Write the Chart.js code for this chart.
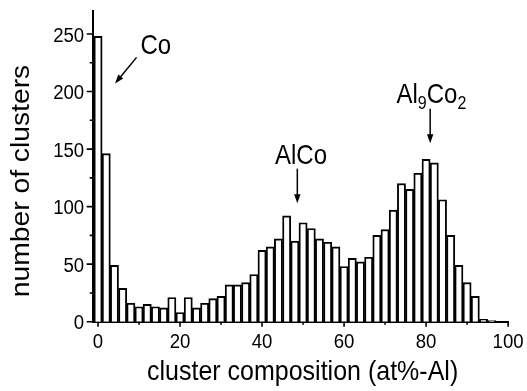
<!DOCTYPE html>
<html>
<head>
<meta charset="utf-8">
<script src="https://cdn.jsdelivr.net/npm/chart.js@4/dist/chart.umd.min.js"></script>
<style>
  html, body { margin: 0; padding: 0; background: #fff; }
  #wrap { width: 527px; height: 391px; }
</style>
</head>
<body>
<div id="wrap"><canvas id="chart"></canvas></div>
<script>
// histogram bins (at%-Al) and number of clusters in each
const binCenters = [0, 2, 4, 6, 8, 10, 12, 14, 16, 18, 20, 22, 24, 26, 28, 30, 32, 34, 36, 38,
  40, 42, 44, 46, 48, 50, 52, 54, 56, 58, 60, 62, 64, 66, 68, 70, 72, 74, 76, 78,
  80, 82, 84, 86, 88, 90, 92, 94, 96];
const clusterCounts = [248, 146, 49, 29, 16, 13, 15, 13, 12, 21, 8, 21, 12, 16, 20, 22, 32, 32, 34, 41,
  62, 65, 72, 92, 70, 86, 81, 72, 69, 65, 48, 55, 52, 56, 75, 80, 97, 120, 115, 129,
  141, 138, 106, 75, 49, 34, 22, 2, 1];

const xTickValues = [0, 20, 40, 60, 80, 100];
const xMinorTicks = [10, 30, 50, 70, 90];
const yTickValues = [0, 50, 100, 150, 200, 250];
const yMinorTicks = [25, 75, 125, 175, 225];

const xTitle = 'cluster composition (at%-Al)';
const yTitle = 'number of clusters';

// phase markers: label pieces [text, isSubscript], arrow start/end in data units
const phaseNames = [
  [['Co', false]],
  [['AlCo', false]],
  [['Al', false], ['9', true], ['Co', false], ['2', true]]
];
const phaseArrows = [
  [9.4, 229.7, 4.15, 207],
  [48.6, 133, 48.6, 103],
  [81, 185, 81, 155]
];
const phaseTextAt = [
  [14.1, 232.7],
  [49.5, 137.3],
  [81.3, 190]
];

const FONT = '"Liberation Sans", Arial, sans-serif';
const STRETCH = 1.13; // lettering is a little taller than wide

const points = binCenters.map((x, i) => ({ x: x, y: clusterCounts[i] }));

function text(ctx, str, x, y, size, align, baseline) {
  ctx.save();
  ctx.translate(x, y);
  ctx.scale(1, STRETCH);
  ctx.font = size + 'px ' + FONT;
  ctx.textAlign = align;
  ctx.textBaseline = baseline;
  ctx.fillText(str, 0, 0);
  ctx.restore();
}

function arrow(ctx, x1, y1, x2, y2) {
  const ang = Math.atan2(y2 - y1, x2 - x1);
  const hl = 9, hw = 3.2;
  ctx.beginPath();
  ctx.moveTo(x1, y1);
  ctx.lineTo(x2 - Math.cos(ang) * hl * 0.8, y2 - Math.sin(ang) * hl * 0.8);
  ctx.stroke();
  ctx.beginPath();
  ctx.moveTo(x2, y2);
  ctx.lineTo(x2 - Math.cos(ang) * hl - Math.sin(ang) * hw, y2 - Math.sin(ang) * hl + Math.cos(ang) * hw);
  ctx.lineTo(x2 - Math.cos(ang) * hl + Math.sin(ang) * hw, y2 - Math.sin(ang) * hl - Math.cos(ang) * hw);
  ctx.closePath();
  ctx.fill();
}

const decorations = {
  id: 'decorations',
  afterDraw(chart) {
    const ctx = chart.ctx;
    const xs = chart.scales.x, ys = chart.scales.y;
    const area = chart.chartArea;
    ctx.save();
    ctx.strokeStyle = '#000';
    ctx.fillStyle = '#000';
    ctx.lineWidth = 1.6;

    // outward tick marks, long for major and short for minor
    ctx.beginPath();
    xTickValues.forEach(v => { const p = xs.getPixelForValue(v); ctx.moveTo(p, area.bottom); ctx.lineTo(p, area.bottom + 5); });
    xMinorTicks.forEach(v => { const p = xs.getPixelForValue(v); ctx.moveTo(p, area.bottom); ctx.lineTo(p, area.bottom + 3); });
    yTickValues.forEach(v => { const p = ys.getPixelForValue(v); ctx.moveTo(area.left, p); ctx.lineTo(area.left - 6, p); });
    yMinorTicks.forEach(v => { const p = ys.getPixelForValue(v); ctx.moveTo(area.left, p); ctx.lineTo(area.left - 3, p); });
    ctx.stroke();

    // tick labels
    xTickValues.forEach(v => text(ctx, String(v), xs.getPixelForValue(v), area.bottom + 26, 18.6, 'center', 'alphabetic'));
    yTickValues.forEach(v => text(ctx, String(v), area.left - 8.5, ys.getPixelForValue(v) + 7.5, 18.6, 'right', 'alphabetic'));

    // axis titles
    text(ctx, xTitle, (area.left + area.right) / 2 + 2, 380, 25, 'center', 'alphabetic');
    ctx.save();
    ctx.translate(29, 181);
    ctx.scale(1, STRETCH);
    ctx.rotate(-Math.PI / 2);
    ctx.font = '25px ' + FONT;
    ctx.textAlign = 'center';
    ctx.textBaseline = 'alphabetic';
    ctx.fillText(yTitle, 0, 0);
    ctx.restore();

    // phase labels with arrows
    ctx.lineWidth = 1.5;
    phaseNames.forEach((parts, i) => {
      let total = 0;
      parts.forEach(([t, sub]) => {
        ctx.font = (sub ? '16px ' : '24px ') + FONT;
        total += ctx.measureText(t).width;
      });
      let px = xs.getPixelForValue(phaseTextAt[i][0]) - total / 2;
      const py = ys.getPixelForValue(phaseTextAt[i][1]);
      parts.forEach(([t, sub]) => {
        text(ctx, t, px, sub ? py + 6 : py, sub ? 16 : 24, 'left', 'alphabetic');
        ctx.font = (sub ? '16px ' : '24px ') + FONT;
        px += ctx.measureText(t).width;
      });
      const a = phaseArrows[i];
      arrow(ctx, xs.getPixelForValue(a[0]), ys.getPixelForValue(a[1]),
        xs.getPixelForValue(a[2]), ys.getPixelForValue(a[3]));
    });
    ctx.restore();
  }
};

new Chart(document.getElementById('chart'), {
  type: 'bar',
  data: {
    datasets: [{
      data: points,
      backgroundColor: '#fff',
      borderColor: '#000',
      borderWidth: 1.9,
      barPercentage: 1,
      categoryPercentage: 1
    }]
  },
  options: {
    responsive: true,
    maintainAspectRatio: false,
    animation: false,
    layout: { padding: { top: 11, right: 18.5, left: 0, bottom: 0 } },
    plugins: { legend: { display: false }, tooltip: { enabled: false } },
    scales: {
      x: {
        type: 'linear',
        offset: false,
        min: -1.3,
        max: 100.1,
        grid: { display: false, drawTicks: false },
        border: { display: true, color: '#000', width: 2 },
        afterBuildTicks: s => { s.ticks = xTickValues.map(v => ({ value: v })); },
        afterFit: s => { s.height = 69.3; },
        ticks: { display: false }
      },
      y: {
        min: 0,
        max: 270,
        grid: { display: false, drawTicks: false },
        border: { display: true, color: '#000', width: 2 },
        afterBuildTicks: s => { s.ticks = yTickValues.map(v => ({ value: v })); },
        afterFit: s => { s.width = 92.7; },
        ticks: { display: false }
      }
    }
  },
  plugins: [decorations]
});
</script>
</body>
</html>
